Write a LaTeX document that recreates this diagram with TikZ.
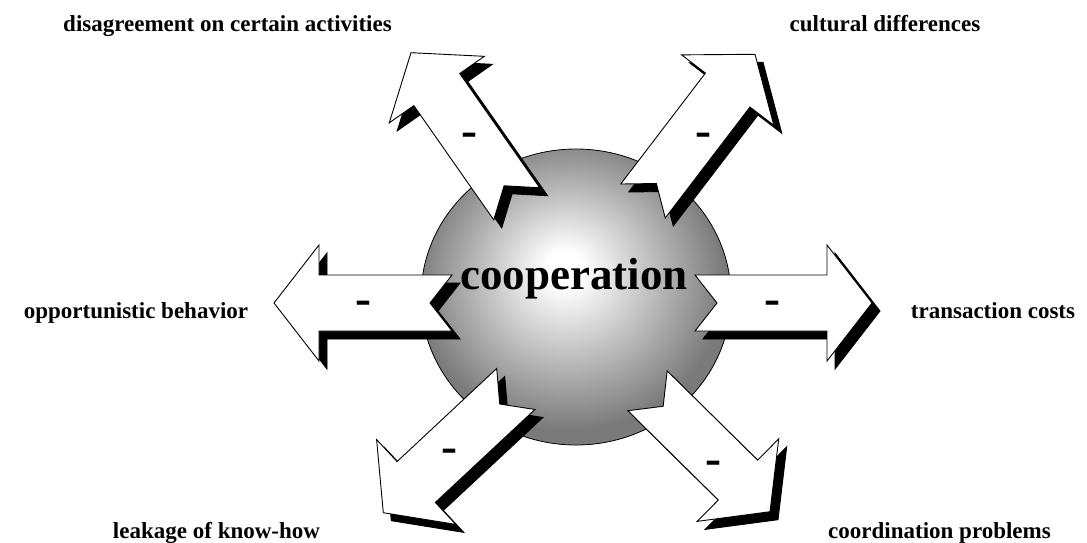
\documentclass[tikz,border=0pt]{standalone}
\usepackage{fontspec}
\setmainfont{Liberation Serif}
\pgfdeclareradialshading{coopshade}{\pgfpoint{-2bp}{5bp}}{color(0bp)=(white); color(3bp)=(white); color(25bp)=(black!52); color(50bp)=(black!52)}
\newcommand\notcharrow[4]{%
  \pgfmathsetmacro\nang{atan2(-(#4-#2),#3-#1)}%
  \pgfmathsetmacro\nlen{veclen(#3-#1,#4-#2)}%
  \begin{scope}[shift={(#1+8,#2+8)}, rotate=\nang]
    \path[arrowshadow] (0,28) -- (\nlen-45,28) -- (\nlen-45,58) -- (\nlen,0) -- (\nlen-45,-58) -- (\nlen-45,-28) -- (0,-28) -- (22,0) -- cycle;
  \end{scope}
  \begin{scope}[shift={(#1,#2)}, rotate=\nang]
    \path[arrowbody] (0,28) -- (\nlen-45,28) -- (\nlen-45,58) -- (\nlen,0) -- (\nlen-45,-58) -- (\nlen-45,-28) -- (0,-28) -- (22,0) -- cycle;
  \end{scope}}
\begin{document}
\begin{tikzpicture}[x=1pt,y=-1pt,
  lbl/.style={font=\fontsize{23}{27}\selectfont\bfseries, inner sep=0pt, anchor=base},
  minussign/.style={font=\fontsize{48}{48}\selectfont\bfseries, inner sep=0pt, anchor=base},
  arrowbody/.style={draw=black, fill=white, line width=0.9pt, line join=miter},
  arrowshadow/.style={fill=black, draw=black, line width=0.9pt, line join=miter}]
\useasboundingbox[fill=white] (0,0) rectangle (1087,543);

% central sphere
\path[draw=black, line width=0.8pt, shade, shading=coopshade] (576,297) ellipse [x radius=155, y radius=148];

% notched arrows with shadows
\notcharrow{516.7}{203.8}{411}{52.7}
\notcharrow{643}{201}{755}{54.3}
\notcharrow{695}{303}{872}{303}
\notcharrow{452}{303}{274}{303}
\notcharrow{515.8}{389}{383.3}{512.7}
\notcharrow{647.5}{390.8}{770}{511.7}

% minus signs
\node[minussign] (m1) at (469,146) {-};
\node[minussign] (m2) at (703,146) {-};
\node[minussign] (m3) at (772,314) {-};
\node[minussign] (m4) at (363,314) {-};
\node[minussign] (m5) at (449,462) {-};
\node[minussign] (m6) at (713,474) {-};

% centre text
\node[font=\fontsize{45}{50}\selectfont\bfseries, inner sep=0pt, anchor=base] (coop) at (574,289) {cooperation};

% labels
\node[lbl] (l1) at (227.5,31.7) {disagreement on certain activities};
\node[lbl] (l2) at (885,31.7) {cultural differences};
\node[lbl] (l3) at (136,318) {opportunistic behavior};
\node[lbl] (l4) at (993,318) {transaction costs};
\node[lbl] (l5) at (216.5,538) {leakage of know-how};
\node[lbl] (l6) at (939.5,538) {coordination problems};
\end{tikzpicture}
\end{document}
